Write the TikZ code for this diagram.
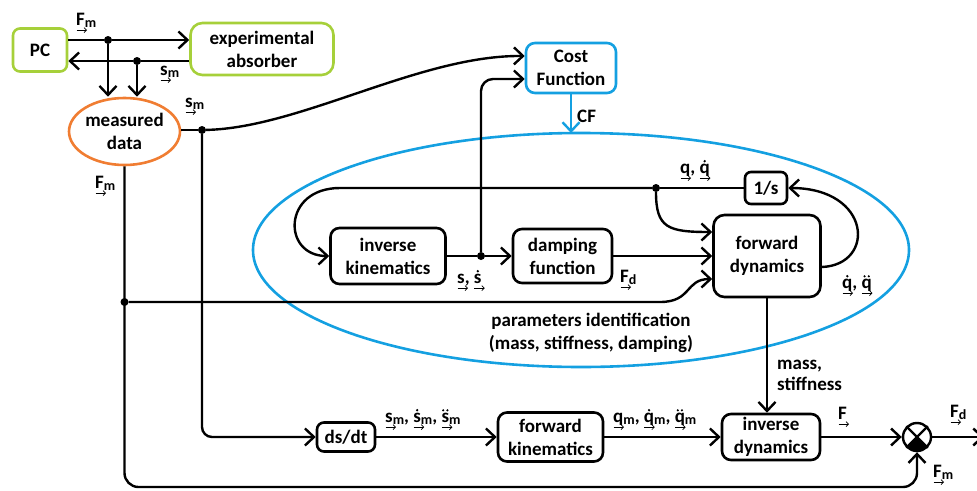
\documentclass[tikz,border=0pt]{standalone}
\usepackage{fontspec}
\setmainfont{Carlito}
\usetikzlibrary{arrows.meta,shapes.geometric}
\definecolor{pgreen}{RGB}{166,208,58}
\definecolor{porange}{RGB}{240,125,50}
\definecolor{pblue}{RGB}{20,160,225}
\newcommand{\va}[1]{\rlap{\raisebox{-8pt}{\tikz[x=1pt,y=1pt]\draw[line width=0.7pt,-{Straight Barb[length=2.5pt,width=5pt,line width=0.7pt]}] (0,0) -- (10.5,0);}}#1}
\newcommand{\sbx}[1]{\raisebox{-2.5pt}{\fontsize{14}{14}\selectfont #1}}
\newcommand{\dt}[1]{\ooalign{#1\cr\hidewidth\raisebox{10.5pt}{\tikz[x=1pt,y=1pt]\fill (0,0) circle[radius=1.3pt];}\hidewidth\cr}}
\newcommand{\ddt}[1]{\ooalign{#1\cr\hidewidth\raisebox{10.5pt}{\tikz[x=1pt,y=1pt]{\fill (0,0) circle[radius=1.2pt]; \fill (4.2,0) circle[radius=1.2pt];}}\hidewidth\cr}}
\begin{document}
\begin{tikzpicture}[x=1pt,y=-1pt,
  every node/.style={font=\fontsize{19}{23}\selectfont\bfseries},
  ln/.style={line width=2.4pt},
  arr/.style={ln,-{Straight Barb[length=9pt,width=17pt,line width=2.4pt]}},
  box/.style={draw,line width=2.6pt,rounded corners=9pt,align=center,inner sep=0pt},
  dot/.style={circle,fill,inner sep=0pt,minimum size=8pt},
  lab/.style={inner sep=0pt,anchor=base west}]
\useasboundingbox (0,0) rectangle (977,490);
% big identification ellipse
\draw[pblue,line width=2.6pt] (581,250) ellipse [x radius=328pt, y radius=117pt];
% blocks
\node[box,draw=pgreen,minimum width=54pt,minimum height=43pt,rounded corners=7pt] (pc) at (40,50) {PC};
\node[box,draw=pgreen,minimum width=143pt,minimum height=52pt,rounded corners=12pt] (exp) at (262,49) {experimental\\absorber};
\node[draw=porange,line width=2.6pt,ellipse,minimum width=101pt,minimum height=67pt,inner sep=0pt,align=center] (md) at (124.5,131.5) {measured\\data};
\node[box,draw=pblue,minimum width=90pt,minimum height=50pt] (cost) at (571,68) {Cost\\Function};
\node[box,minimum width=115pt,minimum height=56pt] (ik) at (388,256) {inverse\\kinematics};
\node[box,minimum width=99pt,minimum height=54pt] (df) at (562.5,256) {damping\\function};
\node[box,minimum width=107pt,minimum height=82pt,rounded corners=11pt] (fd) at (767,256) {forward\\dynamics};
\node[box,minimum width=42pt,minimum height=32pt,rounded corners=6pt] (ones) at (766,188) {1/s};
\node[box,minimum width=58pt,minimum height=29pt,rounded corners=7pt] (dsdt) at (346,437) {ds/dt};
\node[box,minimum width=105pt,minimum height=49pt] (fk) at (550.5,437) {forward\\kinematics};
\node[box,minimum width=98pt,minimum height=46pt] (id) at (771,437) {inverse\\dynamics};
\node[draw,circle,line width=2.4pt,minimum size=28pt,inner sep=0pt] (sum) at (917,437) {};
\fill (sum.center) -- ++(-135:14pt) arc[start angle=-135,end angle=-45,radius=14pt] -- cycle;
\draw[ln] (sum.45) -- (sum.-135) (sum.135) -- (sum.-45);
% junction dots
\node[dot] (d1) at (108,40) {};
\node[dot] (d2) at (137,61) {};
\node[dot] (ds) at (202,130) {};
\node[dot] (dk) at (481,256) {};
\node[dot] (dq) at (656,188) {};
\node[dot] (dfm) at (124.5,302) {};
% connectors
\draw[arr] (pc.east |- d1) -- (d1) -- (exp.west |- d1);
\draw[arr] (exp.west |- d2) -- (d2) -- (pc.east |- d2);
\draw[arr] (d1) -- (d1 |- md.north);
\draw[arr] (d2) -- (d2 |- md.north);
\draw[ln] (md.east |- ds) -- (ds);
\draw[arr] (ds) .. controls (300,128) and (420,55) .. (cost.west |- 0,56);
\draw[arr,rounded corners=10pt] (ds) |- (dsdt.west);
\draw[arr,rounded corners=12pt] (dk) |- (cost.west |- 0,79);
\draw[arr,pblue] (cost.south) -- (cost.south |- 0,133);
\draw[ln] (ik.east) -- (dk);
\draw[arr] (dk) -- (df.west);
\draw[arr] (df.east) -- (fd.west |- df.east);
\draw[ln] (ones.west) -- (dq);
\draw[arr] (dq) -- (340,188) .. controls (282,188) and (282,256) .. (ik.west);
\draw[arr] (dq) .. controls (656,228) and (668,232) .. (fd.west |- 0,232);
\draw[arr] (fd.east |- 0,267) .. controls (876,265) and (872,188) .. (ones.east);
\draw[arr,rounded corners=14pt] (md.south) |- (sum.south |- 0,487) -- (sum.south);
\draw[arr] (dfm) -- (660,302) .. controls (692,302) and (685,279) .. (fd.west |- 0,279);
\draw[arr] (fd.south) -- (fd.south |- id.north);
\draw[arr] (dsdt.east) -- (fk.west);
\draw[arr] (fk.east) -- (id.west);
\draw[arr] (id.east) -- (sum.west);
\coordinate (out) at (984,437);
\draw[arr] (sum.east) -- (out);
% labels
\node[lab] (l1) at (76,25) {\va{F}\sbx{m}};
\node[lab] (l2) at (160,75) {\va{s}\sbx{m}};
\node[lab] (l3) at (185,107) {\va{s}\sbx{m}};
\node[lab] (l4) at (95,188) {\va{F}\sbx{m}};
\node[lab] (l5) at (577,122) {CF};
\node[lab] (l6) at (680,173) {\va{q}, \va{\dt{q}}};
\node[lab] (l7) at (457,283) {\va{s}, \va{\dt{s}}};
\node[lab] (l8) at (620,282) {\va{F}\sbx{d}};
\node[lab] (l9) at (842,288) {\va{\dt{q}}, \va{\ddt{q}}};
\node[align=center] (l10) at (591,333) {parameters identification\\(mass, stiffness, damping)};
\node[align=left,anchor=west,inner sep=0pt,font=\fontsize{19}{21}\selectfont\bfseries] (l11) at (777,375) {mass,\\stiffness};
\node[lab] (l12) at (385,422) {\va{s}\sbx{m}, \va{\dt{s}}\sbx{m}, \va{\ddt{s}}\sbx{m}};
\node[lab] (l13) at (613,422) {\va{q}\sbx{m}, \va{\dt{q}}\sbx{m}, \va{\ddt{q}}\sbx{m}};
\node[lab] (l14) at (838,419) {\va{F}};
\node[lab] (l15) at (950,417) {\va{F}\sbx{d}};
\node[lab] (l16) at (933,477) {\va{F}\sbx{m}};
\end{tikzpicture}
\end{document}
